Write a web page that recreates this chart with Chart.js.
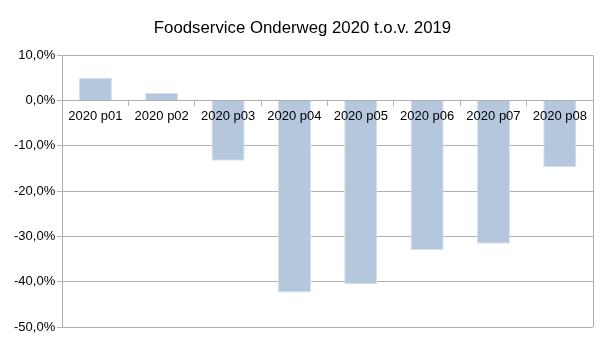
<!DOCTYPE html>
<html>
<head>
<meta charset="utf-8">
<script src="https://cdn.jsdelivr.net/npm/chart.js@4/dist/chart.umd.min.js"></script>
<style>
  html, body { margin: 0; padding: 0; background: #fff; }
  #wrap { width: 605px; height: 340px; }
</style>
</head>
<body>
<div id="wrap"><canvas id="foodChart"></canvas></div>
<script>
// periods and change vs. previous year (percent)
const periods = ['2020 p01', '2020 p02', '2020 p03', '2020 p04', '2020 p05', '2020 p06', '2020 p07', '2020 p08'];
const changePct = [5.0, 1.7, -13.3, -42.4, -40.5, -33.0, -31.6, -14.7];
const yMin = -50;
const yMax = 10;
const yStep = 10;

const gridGray = '#b0b0b0';

// frame line on the right edge of the plot
const rightFrame = {
  id: 'rightFrame',
  afterDraw(chart) {
    const a = chart.chartArea;
    const ctx = chart.ctx;
    ctx.save();
    ctx.strokeStyle = gridGray;
    ctx.lineWidth = 1;
    ctx.beginPath();
    ctx.moveTo(Math.round(a.right) + 0.5, a.top);
    ctx.lineTo(Math.round(a.right) + 0.5, a.bottom);
    ctx.stroke();
    ctx.restore();
  }
};

const ctx = document.getElementById('foodChart').getContext('2d');

new Chart(ctx, {
  type: 'bar',
  data: {
    labels: periods,
    datasets: [{
      data: changePct,
      backgroundColor: '#b5c7dd',
      borderColor: '#d6e1ee',
      borderWidth: 1,
      barPercentage: 0.5,
      categoryPercentage: 1.0
    }]
  },
  options: {
    responsive: true,
    maintainAspectRatio: false,
    animation: false,
    layout: {
      padding: { left: 12, right: 12, bottom: 13, top: 1 }
    },
    plugins: {
      legend: { display: false },
      tooltip: { enabled: false },
      title: {
        display: true,
        text: 'Foodservice Onderweg 2020 t.o.v. 2019',
        color: '#000',
        font: { family: 'Liberation Sans', size: 16.8, weight: 'normal' },
        padding: { top: 17, bottom: 17 }
      }
    },
    scales: {
      x: {
        position: { y: 0 },
        grid: {
          display: true,
          drawOnChartArea: false,
          tickLength: 5,
          color: gridGray
        },
        border: { display: true, color: gridGray },
        ticks: {
          z: 1, // labels sit on top of the bars
          color: '#000',
          padding: 3,
          maxRotation: 0,
          font: { family: 'Liberation Sans', size: 13 }
        }
      },
      y: {
        min: yMin,
        max: yMax,
        grid: {
          color: gridGray,
          tickLength: 5
        },
        border: { display: true, color: gridGray },
        ticks: {
          stepSize: yStep,
          color: '#000',
          padding: 2,
          font: { family: 'Liberation Sans', size: 13 },
          callback: function (v) {
            return v.toFixed(1).replace('.', ',') + '%';
          }
        }
      }
    }
  },
  plugins: [rightFrame]
});
</script>
</body>
</html>
